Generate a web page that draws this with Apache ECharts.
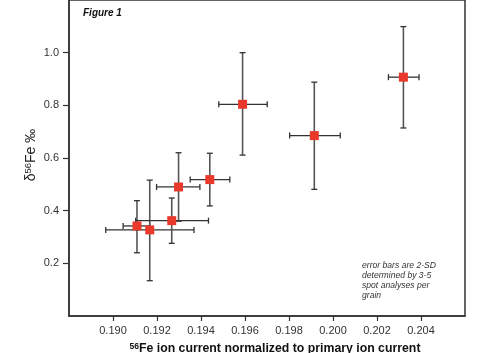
<!DOCTYPE html>
<html>
<head>
<meta charset="utf-8">
<script src="https://cdn.jsdelivr.net/npm/echarts@6/dist/echarts.min.js"></script>
<style>
  html, body { margin: 0; padding: 0; background: #fff; }
  #chart { width: 484px; height: 353px; }
</style>
</head>
<body>
<div id="chart"></div>
<script>
// values
var feCurrent = [0.19109, 0.19167, 0.19267, 0.19298, 0.19440, 0.19589, 0.19915, 0.20320];
var delta56 = [0.342, 0.327, 0.362, 0.490, 0.518, 0.804, 0.685, 0.907];
// error bar ends (2-SD)
var xLow = [0.19046, 0.18967, 0.19103, 0.19198, 0.19351, 0.19481, 0.19803, 0.20252];
var xHigh = [0.19167, 0.19368, 0.19434, 0.19395, 0.19531, 0.19701, 0.20033, 0.20391];
var yLow = [0.240, 0.134, 0.276, 0.360, 0.418, 0.611, 0.481, 0.714];
var yHigh = [0.438, 0.516, 0.448, 0.620, 0.618, 1.000, 0.888, 1.099];

var fontFam = '"Liberation Sans", Arial, sans-serif';

var pts = feCurrent.map(function (x, i) {
  return [x, delta56[i], xLow[i], xHigh[i], yLow[i], yHigh[i]];
});

function errorBars(params, api) {
  var x = api.value(0), y = api.value(1);
  var top = api.coord([x, api.value(5)]);
  var bot = api.coord([x, api.value(4)]);
  var lft = api.coord([api.value(2), y]);
  var rgt = api.coord([api.value(3), y]);
  var cap = 3;
  var vs = { stroke: '#555', lineWidth: 1.6 };
  var hs = { stroke: '#333', lineWidth: 1.3 };
  return {
    type: 'group',
    children: [
      { type: 'line', shape: { x1: top[0], y1: top[1], x2: bot[0], y2: bot[1] }, style: vs },
      { type: 'line', shape: { x1: top[0] - cap, y1: top[1], x2: top[0] + cap, y2: top[1] }, style: hs },
      { type: 'line', shape: { x1: bot[0] - cap, y1: bot[1], x2: bot[0] + cap, y2: bot[1] }, style: hs },
      { type: 'line', shape: { x1: lft[0], y1: lft[1], x2: rgt[0], y2: rgt[1] }, style: hs },
      { type: 'line', shape: { x1: lft[0], y1: lft[1] - cap, x2: lft[0], y2: lft[1] + cap }, style: hs },
      { type: 'line', shape: { x1: rgt[0], y1: rgt[1] - cap, x2: rgt[0], y2: rgt[1] + cap }, style: hs }
    ]
  };
}

var chart = echarts.init(document.getElementById('chart'));
chart.setOption({
  animation: false,
  grid: {
    left: 69, right: 19, top: -2, bottom: 37,
    show: true, borderColor: '#333', borderWidth: 1.5, backgroundColor: 'transparent'
  },
  xAxis: {
    type: 'value',
    min: 0.188, max: 0.206, interval: 0.002,
    splitLine: { show: false },
    axisLine: { lineStyle: { color: '#333', width: 1.5 } },
    axisTick: { length: 5, lineStyle: { color: '#333', width: 1.2 } },
    axisLabel: {
      margin: 9, color: '#333', fontSize: 11, fontFamily: fontFam,
      showMinLabel: false, showMaxLabel: false,
      formatter: function (v) { return v.toFixed(3); }
    }
  },
  yAxis: {
    type: 'value',
    min: 0, max: 1.2, interval: 0.2,
    splitLine: { show: false },
    axisLine: { lineStyle: { color: '#333', width: 1.5 } },
    axisTick: { length: 6, lineStyle: { color: '#333', width: 1.2 } },
    axisLabel: {
      margin: 10, color: '#333', fontSize: 11, fontFamily: fontFam,
      showMinLabel: false, showMaxLabel: false,
      formatter: function (v) { return v.toFixed(1); }
    }
  },
  series: [
    {
      type: 'custom',
      renderItem: errorBars,
      data: pts,
      z: 2
    },
    {
      type: 'scatter',
      data: pts.map(function (p) { return [p[0], p[1]]; }),
      symbol: 'rect',
      symbolSize: 9,
      itemStyle: { color: '#e8392b', opacity: 1 },
      z: 3
    }
  ],
  graphic: [
    {
      type: 'text', left: 83, top: 8,
      style: { text: 'Figure 1', font: 'italic bold 10px ' + fontFam, fill: '#111' }
    },
    {
      type: 'text', left: 362, top: 261,
      style: {
        text: 'error bars are 2-SD\ndetermined by 3-5\nspot analyses per\ngrain',
        font: 'italic 8.6px ' + fontFam, fill: '#333', lineHeight: 10
      }
    },
    {
      type: 'text', x: 275, y: 349,
      style: {
        text: '{s|56}{b|Fe ion current normalized to primary ion current}',
        align: 'center', verticalAlign: 'middle',
        rich: {
          s: { fontSize: 8.5, fontWeight: 'bold', fontFamily: fontFam, fill: '#111', padding: [0, 0, 5, 0] },
          b: { fontSize: 12.3, fontWeight: 'bold', fontFamily: fontFam, fill: '#111' }
        }
      }
    },
    {
      type: 'text', x: 31, y: 155, rotation: Math.PI / 2,
      style: {
        text: '{n|δ}{s|56}{n|Fe ‰}',
        align: 'center', verticalAlign: 'middle',
        rich: {
          n: { fontSize: 14, fontFamily: fontFam, fill: '#222' },
          s: { fontSize: 9.5, fontFamily: fontFam, fill: '#222', padding: [0, 0, 6, 0] }
        }
      }
    }
  ]
});
</script>
</body>
</html>
